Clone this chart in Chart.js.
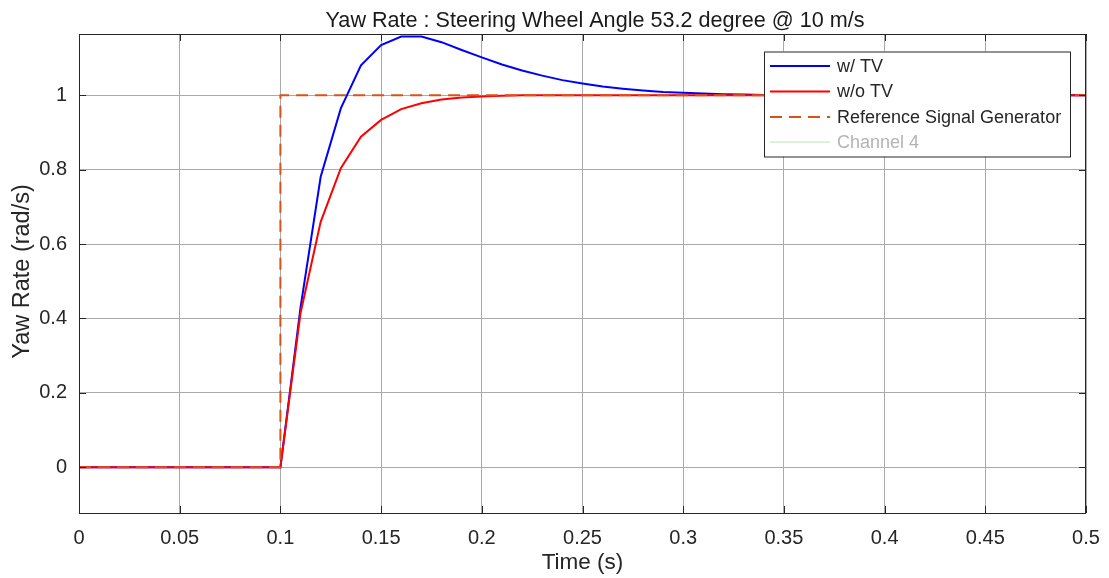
<!DOCTYPE html>
<html>
<head>
<meta charset="utf-8">
<script src="https://cdn.jsdelivr.net/npm/chart.js@4/dist/chart.umd.min.js"></script>
<style>
  html, body { margin: 0; padding: 0; background: #ffffff; }
  #wrap { width: 1109px; height: 578px; }
</style>
</head>
<body>
<div id="wrap"><canvas id="c" width="1109" height="578"></canvas></div>
<script>
// Simulation time base (s), sampled every 10 ms
const time = [
  0.00, 0.01, 0.02, 0.03, 0.04, 0.05, 0.06, 0.07, 0.08, 0.09,
  0.10, 0.11, 0.12, 0.13, 0.14, 0.15, 0.16, 0.17, 0.18, 0.19,
  0.20, 0.21, 0.22, 0.23, 0.24, 0.25, 0.26, 0.27, 0.28, 0.29,
  0.30, 0.31, 0.32, 0.33, 0.34, 0.35, 0.36, 0.37, 0.38, 0.39,
  0.40, 0.41, 0.42, 0.43, 0.44, 0.45, 0.46, 0.47, 0.48, 0.49, 0.50
];

// Yaw rate with torque vectoring (rad/s)
const yawWithTV = [
  0, 0, 0, 0, 0, 0, 0, 0, 0, 0,
  0, 0.430, 0.781, 0.965, 1.081, 1.135, 1.158, 1.158, 1.143, 1.122,
  1.102, 1.083, 1.067, 1.053, 1.041, 1.032, 1.024, 1.018, 1.013, 1.009,
  1.007, 1.005, 1.003, 1.002, 1.001, 1.000, 1.000, 1.000, 1.000, 1.000,
  1.000, 1.000, 1.000, 1.000, 1.000, 1.000, 1.000, 1.000, 1.000, 1.000, 1.000
];

// Yaw rate without torque vectoring (rad/s)
const yawWithoutTV = [
  0, 0, 0, 0, 0, 0, 0, 0, 0, 0,
  0, 0.415, 0.660, 0.804, 0.889, 0.934, 0.963, 0.979, 0.989, 0.994,
  0.997, 0.999, 1.000, 1.000, 1.000, 1.000, 1.000, 1.000, 1.000, 1.000,
  1.000, 1.000, 1.000, 1.000, 1.000, 1.000, 1.000, 1.000, 1.000, 1.000,
  1.000, 1.000, 1.000, 1.000, 1.000, 1.000, 1.000, 1.000, 1.000, 1.000, 1.000
];

// Step reference from the signal generator
const refTime  = [0, 0.1, 0.1, 0.5];
const refValue = [0, 0, 1, 1];

// Axis ticks
const xTickValues = [0, 0.05, 0.1, 0.15, 0.2, 0.25, 0.3, 0.35, 0.4, 0.45, 0.5];
const xTickLabels = ['0', '0.05', '0.1', '0.15', '0.2', '0.25', '0.3', '0.35', '0.4', '0.45', '0.5'];
const yTickValues = [0, 0.2, 0.4, 0.6, 0.8, 1];
const yTickLabels = ['0', '0.2', '0.4', '0.6', '0.8', '1'];

const seriesNames = ['w/ TV', 'w/o TV', 'Reference Signal Generator', 'Channel 4'];
const titleText = 'Yaw Rate : Steering Wheel Angle 53.2 degree @ 10 m/s';
const xLabel = 'Time (s)';
const yLabel = 'Yaw Rate (rad/s)';

const FONT = "'Liberation Sans', Arial, Helvetica, sans-serif";
const INK = '#262626';
const C_BLUE = '#0000ff';
const C_RED = '#ff0000';
const C_REF = '#d95319';
const C_CH4 = '#bfe3b0';

const toXY = (xs, ys) => xs.map((x, i) => ({ x: x, y: ys[i] }));

// Frame, inward ticks, title, axis labels and legend box
const decorations = {
  id: 'decorations',
  afterDatasetsDraw(chart) {
    const ctx = chart.ctx;
    const a = chart.chartArea;
    const xs = chart.scales.x, ys = chart.scales.y;
    ctx.save();

    // inward tick marks on all four sides
    ctx.strokeStyle = INK;
    ctx.lineWidth = 1;
    const tl = 7;
    ctx.beginPath();
    xTickValues.forEach(v => {
      const px = Math.round(xs.getPixelForValue(v)) + 0.5;
      ctx.moveTo(px, a.bottom); ctx.lineTo(px, a.bottom - tl);
      ctx.moveTo(px, a.top); ctx.lineTo(px, a.top + tl);
    });
    yTickValues.forEach(v => {
      const py = Math.round(ys.getPixelForValue(v)) + 0.5;
      ctx.moveTo(a.left, py); ctx.lineTo(a.left + tl, py);
      ctx.moveTo(a.right, py); ctx.lineTo(a.right - tl, py);
    });
    ctx.stroke();

    // axes box
    ctx.strokeRect(Math.round(a.left) + 0.5, Math.round(a.top) + 0.5,
                   Math.round(a.right - a.left) - 1, Math.round(a.bottom - a.top));

    // title
    ctx.fillStyle = '#1a1a1a';
    ctx.font = '21.6px ' + FONT;
    ctx.textAlign = 'center';
    ctx.textBaseline = 'alphabetic';
    ctx.fillText(titleText, 595, 27);

    // axis labels
    ctx.fillStyle = INK;
    ctx.font = '22.5px ' + FONT;
    ctx.fillText(xLabel, (a.left + a.right) / 2, 569);
    ctx.save();
    ctx.font = '23.5px ' + FONT;
    ctx.translate(29, 271.5);
    ctx.rotate(-Math.PI / 2);
    ctx.fillText(yLabel, 0, 0);
    ctx.restore();

    // legend
    const bx = 764, by = 51.5, bw = 306, bh = 105;
    ctx.fillStyle = '#ffffff';
    ctx.fillRect(bx, by, bw, bh);
    ctx.strokeStyle = INK;
    ctx.lineWidth = 1;
    ctx.strokeRect(bx + 0.5, by + 0.5, bw, bh);
    const rows = [66, 91.5, 117, 142];
    const styles = [
      { color: C_BLUE, dash: [], text: INK },
      { color: C_RED, dash: [], text: INK },
      { color: C_REF, dash: [12, 7], text: INK },
      { color: C_CH4, dash: [], text: '#b4b4b4' }
    ];
    ctx.font = '18px ' + FONT;
    ctx.textAlign = 'left';
    ctx.textBaseline = 'middle';
    rows.forEach((ry, i) => {
      const s = styles[i];
      ctx.strokeStyle = s.color;
      ctx.lineWidth = i === 3 ? 1.2 : 2;
      ctx.setLineDash(s.dash);
      ctx.beginPath();
      ctx.moveTo(770, ry); ctx.lineTo(830, ry);
      ctx.stroke();
      ctx.setLineDash([]);
      ctx.fillStyle = s.text;
      ctx.fillText(seriesNames[i], 837, ry + 1);
    });

    ctx.restore();
  }
};

new Chart(document.getElementById('c'), {
  type: 'line',
  data: {
    datasets: [
      { label: seriesNames[0], data: toXY(time, yawWithTV), borderColor: C_BLUE,
        borderWidth: 2, pointRadius: 0, tension: 0, fill: false, order: 3 },
      { label: seriesNames[1], data: toXY(time, yawWithoutTV), borderColor: C_RED,
        borderWidth: 2, pointRadius: 0, tension: 0, fill: false, order: 2 },
      { label: seriesNames[2], data: toXY(refTime, refValue), borderColor: C_REF,
        borderWidth: 2, borderDash: [12, 7], pointRadius: 0, tension: 0, fill: false, order: 1 },
      { label: seriesNames[3], data: [], borderColor: C_CH4,
        borderWidth: 1, pointRadius: 0, fill: false, order: 4 }
    ]
  },
  options: {
    responsive: false,
    animation: false,
    events: [],
    layout: { padding: { top: 34, right: 23, left: 0, bottom: 0 } },
    plugins: { legend: { display: false }, tooltip: { enabled: false }, title: { display: false } },
    scales: {
      x: {
        type: 'linear', min: 0, max: 0.5,
        afterBuildTicks: s => { s.ticks = xTickValues.map(v => ({ value: v })); },
        afterFit: s => { s.height = 65; s.paddingLeft = 0; s.paddingRight = 0; },
        border: { display: false },
        grid: { color: '#aaaaaa', lineWidth: 1, drawTicks: false },
        ticks: {
          padding: 13, color: INK, maxRotation: 0, autoSkip: false,
          font: { family: FONT, size: 20 },
          callback: (v, i) => xTickLabels[i]
        }
      },
      y: {
        type: 'linear', min: -0.123, max: 1.165,
        afterBuildTicks: s => { s.ticks = yTickValues.map(v => ({ value: v })); },
        afterFit: s => { s.width = 79; s.paddingTop = 0; s.paddingBottom = 0; },
        border: { display: false },
        grid: { color: '#aaaaaa', lineWidth: 1, drawTicks: false },
        ticks: {
          padding: 12, color: INK, autoSkip: false,
          font: { family: FONT, size: 20 },
          callback: (v, i) => yTickLabels[i]
        }
      }
    }
  },
  plugins: [decorations]
});
</script>
</body>
</html>
